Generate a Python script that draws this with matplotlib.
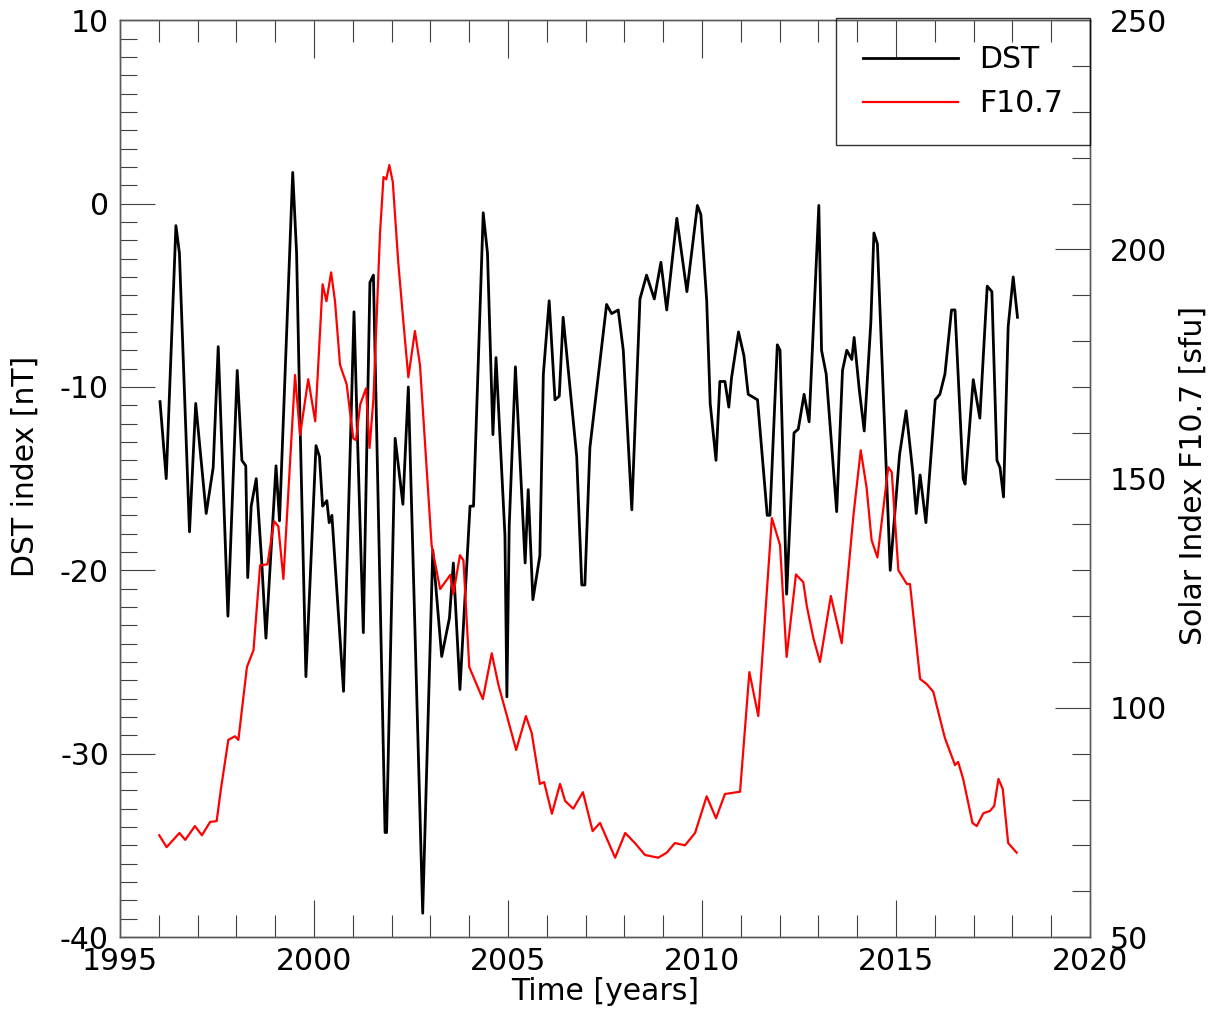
import numpy as np
import matplotlib
matplotlib.use('Agg')
import matplotlib.pyplot as plt
from matplotlib.ticker import MultipleLocator

# DST index [nT]
dst_year = [1996.03, 1996.19, 1996.44, 1996.53, 1996.79, 1996.95, 1997.22, 1997.40, 1997.53, 1997.78,
            1998.02, 1998.14, 1998.24, 1998.29, 1998.38, 1998.51, 1998.65, 1998.76, 1999.02, 1999.11,
            1999.45, 1999.55, 1999.64, 1999.79, 2000.05, 2000.14, 2000.22, 2000.33, 2000.39, 2000.46,
            2000.76, 2001.03, 2001.12, 2001.27, 2001.44, 2001.53, 2001.83, 2001.87, 2002.09, 2002.29,
            2002.43, 2002.80, 2003.06, 2003.29, 2003.49, 2003.59, 2003.76, 2004.02, 2004.11, 2004.36,
            2004.47, 2004.61, 2004.69, 2004.92, 2004.97, 2005.03, 2005.19, 2005.44, 2005.52, 2005.64,
            2005.82, 2005.91, 2006.06, 2006.21, 2006.32, 2006.42, 2006.77, 2006.90, 2006.98, 2007.11,
            2007.54, 2007.67, 2007.84, 2007.97, 2008.19, 2008.40, 2008.57, 2008.77, 2008.94, 2009.09,
            2009.35, 2009.61, 2009.88, 2009.97, 2010.12, 2010.21, 2010.36, 2010.46, 2010.59, 2010.69,
            2010.76, 2010.94, 2011.08, 2011.19, 2011.43, 2011.68, 2011.75, 2011.94, 2012.01, 2012.18,
            2012.37, 2012.48, 2012.63, 2012.76, 2013.01, 2013.08, 2013.20, 2013.47, 2013.62, 2013.73,
            2013.86, 2013.92, 2014.05, 2014.18, 2014.35, 2014.43, 2014.52, 2014.85, 2015.09, 2015.26,
            2015.43, 2015.52, 2015.62, 2015.77, 2016.01, 2016.13, 2016.26, 2016.43, 2016.52, 2016.73,
            2016.78, 2016.99, 2017.16, 2017.35, 2017.47, 2017.60, 2017.68, 2017.77, 2017.89, 2018.02,
            2018.13]
dst = [-10.8, -15.0, -1.2, -2.7, -17.9, -10.9, -16.9, -14.4, -7.8, -22.5,
       -9.1, -14.0, -14.3, -20.4, -16.5, -15.0, -19.5, -23.7, -14.3, -17.3,
       1.7, -2.7, -12.0, -25.8, -13.2, -13.8, -16.5, -16.2, -17.4, -17.0,
       -26.6, -5.9, -12.8, -23.4, -4.3, -3.9, -34.3, -34.3, -12.8, -16.4,
       -10.0, -38.7, -18.9, -24.7, -22.6, -19.6, -26.5, -16.5, -16.5, -0.5,
       -2.7, -12.6, -8.4, -18.1, -26.9, -17.6, -8.9, -19.6, -15.6, -21.6,
       -19.2, -9.3, -5.3, -10.7, -10.5, -6.2, -13.8, -20.8, -20.8, -13.3,
       -5.5, -6.0, -5.8, -8.0, -16.7, -5.2, -3.9, -5.2, -3.2, -5.8,
       -0.8, -4.8, -0.1, -0.6, -5.3, -10.9, -14.0, -9.7, -9.7, -11.1,
       -9.5, -7.0, -8.3, -10.4, -10.7, -17.0, -17.0, -7.7, -8.0, -21.3,
       -12.5, -12.3, -10.4, -11.9, -0.1, -8.0, -9.3, -16.8, -9.1, -8.0,
       -8.5, -7.3, -10.1, -12.4, -6.5, -1.6, -2.2, -20.0, -13.7, -11.3,
       -14.6, -16.9, -14.8, -17.4, -10.7, -10.4, -9.3, -5.8, -5.8, -15.0,
       -15.3, -9.6, -11.7, -4.5, -4.8, -14.0, -14.4, -16.0, -6.7, -4.0,
       -6.2]

# Solar index F10.7 [sfu]
f107_year = [1996.01, 1996.20, 1996.53, 1996.68, 1996.93, 1997.11, 1997.32, 1997.49, 1997.60, 1997.79,
             1997.96, 1998.05, 1998.27, 1998.44, 1998.61, 1998.80, 1998.97, 1999.08, 1999.21, 1999.51,
             1999.64, 1999.85, 2000.03, 2000.22, 2000.32, 2000.44, 2000.54, 2000.67, 2000.84, 2001.01,
             2001.08, 2001.19, 2001.34, 2001.43, 2001.53, 2001.70, 2001.79, 2001.86, 2001.94, 2002.03,
             2002.17, 2002.29, 2002.43, 2002.60, 2002.73, 2003.03, 2003.25, 2003.51, 2003.59, 2003.76,
             2003.85, 2004.00, 2004.35, 2004.58, 2004.75, 2005.21, 2005.46, 2005.61, 2005.82, 2005.93,
             2006.13, 2006.34, 2006.47, 2006.68, 2006.93, 2007.18, 2007.37, 2007.76, 2008.02, 2008.27,
             2008.53, 2008.87, 2009.09, 2009.30, 2009.56, 2009.82, 2010.12, 2010.36, 2010.59, 2010.98,
             2011.22, 2011.45, 2011.80, 2012.01, 2012.18, 2012.42, 2012.61, 2012.70, 2012.87, 2013.04,
             2013.32, 2013.60, 2013.90, 2014.09, 2014.24, 2014.37, 2014.52, 2014.80, 2014.89, 2015.06,
             2015.28, 2015.36, 2015.62, 2015.79, 2015.96, 2016.05, 2016.26, 2016.52, 2016.60, 2016.73,
             2016.97, 2017.08, 2017.25, 2017.42, 2017.53, 2017.64, 2017.75, 2017.89, 2018.11]
f107 = [72.2, 69.6, 72.7, 71.2, 74.2, 72.2, 75.1, 75.3, 82.3, 93.0,
        93.8, 93.0, 108.9, 112.6, 131.1, 131.3, 140.7, 139.6, 128.1, 172.6,
        159.5, 171.7, 162.5, 192.4, 188.7, 195.0, 188.7, 174.8, 170.6, 158.8,
        158.4, 166.2, 169.7, 156.7, 167.3, 203.5, 215.8, 215.3, 218.4, 214.7,
        197.2, 185.4, 172.1, 182.2, 174.8, 135.5, 125.9, 129.0, 124.8, 133.3,
        132.2, 108.9, 101.9, 111.9, 105.1, 90.8, 98.2, 94.5, 83.4, 83.8,
        76.9, 83.4, 79.7, 78.0, 81.6, 73.1, 74.9, 67.3, 72.7, 70.5,
        67.9, 67.3, 68.4, 70.5, 70.0, 72.7, 80.7, 75.9, 81.2, 81.7,
        107.8, 98.2, 141.4, 135.5, 111.1, 129.1, 127.4, 122.2, 115.2, 110.0,
        124.4, 114.1, 141.8, 156.2, 148.1, 136.6, 132.8, 152.5, 151.4, 130.0,
        127.0, 127.0, 106.3, 105.2, 103.5, 100.4, 93.4, 87.5, 88.2, 84.5,
        74.9, 74.2, 77.0, 77.5, 78.6, 84.5, 82.3, 70.5, 68.4]

plt.rcParams['font.family'] = ['DejaVu Sans']
plt.rcParams['font.size'] = 21.5
plt.rcParams['axes.unicode_minus'] = False

fig = plt.figure(figsize=(12.09, 10.13), dpi=100)
ax = fig.add_axes([0.0993, 0.075, 0.8023, 0.905])
ax2 = ax.twinx()

l1, = ax.plot(dst_year, dst, color='black', lw=2.0, label='DST')
l2, = ax2.plot(f107_year, f107, color='red', lw=1.6, label='F10.7')

ax.set_xlim(1995, 2020)
ax.set_ylim(-40, 10)
ax2.set_ylim(50, 250)

ax.xaxis.set_major_locator(MultipleLocator(5))
ax.xaxis.set_minor_locator(MultipleLocator(1))
ax.yaxis.set_major_locator(MultipleLocator(10))
ax.yaxis.set_minor_locator(MultipleLocator(1))
ax2.yaxis.set_major_locator(MultipleLocator(50))
ax2.yaxis.set_minor_locator(MultipleLocator(10))

tc = '0.25'
ax.tick_params(axis='x', which='both', direction='in', top=True, colors=tc, labelcolor='black', width=0.8, pad=7)
ax.tick_params(axis='x', which='major', length=27)
ax.tick_params(axis='x', which='minor', length=16)
ax.tick_params(axis='y', which='both', direction='in', right=False, colors=tc, labelcolor='black', width=0.8, pad=8)
ax.tick_params(axis='y', which='major', length=25)
ax.tick_params(axis='y', which='minor', length=12)
ax2.tick_params(axis='y', which='both', direction='in', colors=tc, labelcolor='black', width=0.8, pad=14)
ax2.tick_params(axis='y', which='major', length=25)
ax2.tick_params(axis='y', which='minor', length=13)

for a in (ax, ax2):
    for s in a.spines.values():
        s.set_color('0.35')
        s.set_linewidth(1.0)

ax.set_xlabel('Time [years]')
ax.set_ylabel('DST index [nT]')
ax2.set_ylabel('Solar Index F10.7 [sfu]')
ax.xaxis.set_label_coords(0.5, -0.044)
ax.yaxis.set_label_coords(-0.083, 0.513)
ax2.yaxis.set_label_coords(1.091, 0.503)

leg = ax2.legend(handles=[l1, l2], loc='upper right', borderaxespad=0, fancybox=False,
                 handlelength=3.2, handletextpad=0.7, labelspacing=0.5, borderpad=0.9,
                 bbox_to_anchor=(1.0, 1.002))
leg.get_frame().set_edgecolor('black')
leg.get_frame().set_facecolor('none')
leg.get_frame().set_linewidth(1.0)

fig.savefig('out.png', dpi=100)
